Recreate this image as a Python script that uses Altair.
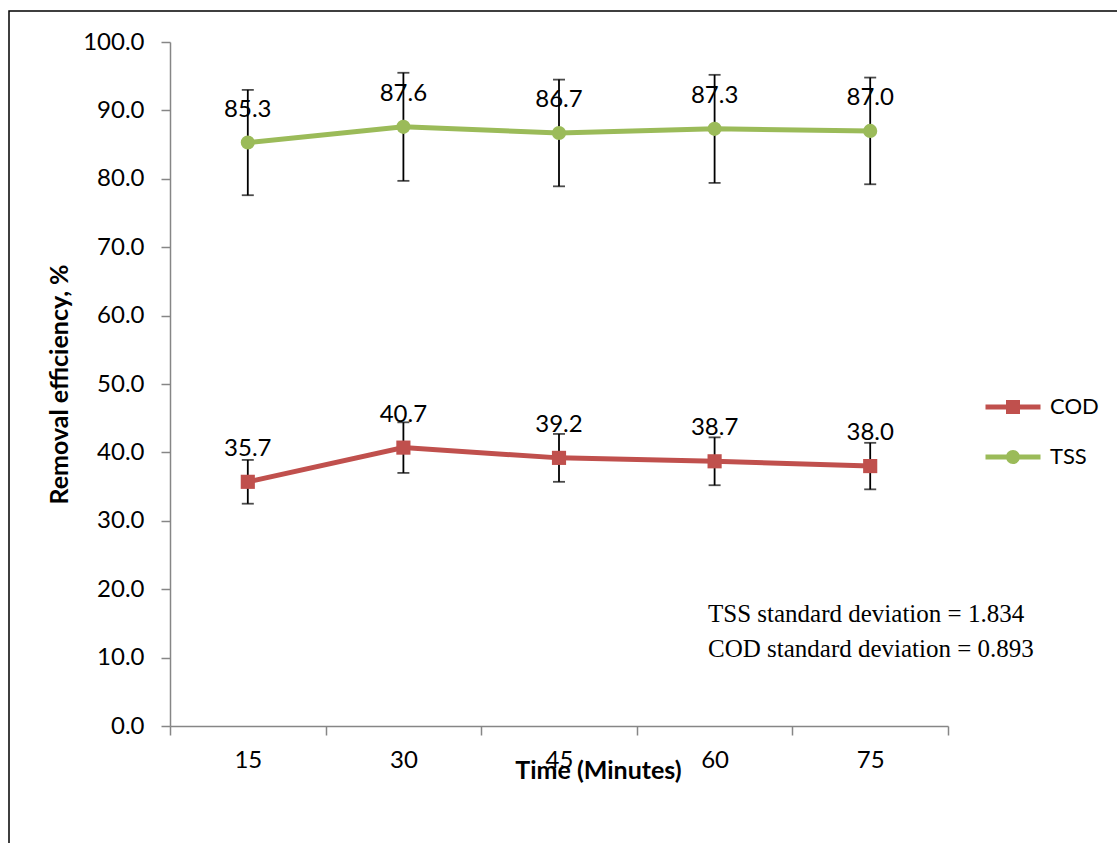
import altair as alt
import pandas as pd

times = [15, 30, 45, 60, 75]
cod = [35.7, 40.7, 39.2, 38.7, 38.0]
tss = [85.3, 87.6, 86.7, 87.3, 87.0]
cod_err = [3.2, 3.7, 3.5, 3.5, 3.4]
tss_err = [7.7, 7.9, 7.8, 7.9, 7.8]
series_names = ["COD", "TSS"]
series_colors = ["#C0504D", "#9BBB59"]
x_tick_values = [7.5, 22.5, 37.5, 52.5, 67.5, 82.5]
y_tick_values = [0, 10, 20, 30, 40, 50, 60, 70, 80, 90, 100]
note_lines = ["TSS standard deviation = 1.834", "COD standard deviation = 0.893"]

rows = []
for name, vals, errs in (("COD", cod, cod_err), ("TSS", tss, tss_err)):
    for t, v, e in zip(times, vals, errs):
        rows.append({"Time": t, "Series": name, "Series2": name, "Value": v,
                     "Lo": v - e, "Hi": v + e, "Label": f"{v:.1f}", "Hidden": -50.0})
df = pd.DataFrame(rows)

FONT = "Lato"
W, H = 778, 684

xscale = alt.Scale(domain=[7.5, 82.5], nice=False, zero=False)
yscale = alt.Scale(domain=[0, 100], nice=False, zero=False)

x_enc = alt.X("Time:Q", scale=xscale, axis=alt.Axis(
    values=x_tick_values, title="Time (Minutes)", grid=False,
    labelExpr="datum.value < 80 ? format(datum.value + 7.5, 'd') : ''",
    labelOffset=W / 10, labelFlush=False, labelOverlap=False,
    tickSize=9, tickColor="#868686", domainColor="#868686",
    tickWidth=1.5, domainWidth=1.5,
    labelFont=FONT, labelFontSize=24, labelColor="black", labelPadding=13,
    titleFont=FONT, titleFontSize=25, titleFontWeight="bold", titleColor="black",
    titleX=428, titleY=44, titleBaseline="middle"))
y_enc = alt.Y("Value:Q", scale=yscale, axis=alt.Axis(
    values=y_tick_values, format=".1f", title="Removal efficiency, %", grid=False,
    tickSize=9, tickColor="#868686", domainColor="#868686", tickWidth=1.5, domainWidth=1.5,
    labelFont=FONT, labelFontSize=24, labelColor="black", labelPadding=17,
    titleFont=FONT, titleFontSize=25, titleFontWeight="bold", titleColor="black",
    titlePadding=10))

cscale = alt.Scale(domain=series_names, range=series_colors)
color_nolegend = alt.Color("Series:N", scale=cscale, legend=None)
xq = alt.X("Time:Q", scale=xscale)

def yq(field):
    return alt.Y(f"{field}:Q", scale=yscale)

base = alt.Chart(df)

lines = base.mark_line(strokeWidth=5).encode(x=x_enc, y=y_enc, color=color_nolegend,
                                               detail="Series:N")
rules = base.mark_rule(color="black", strokeWidth=1.8).encode(x=xq, y=yq("Lo"), y2="Hi:Q")
caps_lo = base.mark_tick(color="black", size=12, thickness=1.8, orient="horizontal").encode(
    x=xq, y=yq("Lo"))
caps_hi = base.mark_tick(color="black", size=12, thickness=1.8, orient="horizontal").encode(
    x=xq, y=yq("Hi"))
pts_cod = base.transform_filter(alt.datum.Series == "COD").mark_point(
    shape="square", filled=True, size=200, opacity=1).encode(
    x=xq, y=yq("Value"), color=color_nolegend)
pts_tss = base.transform_filter(alt.datum.Series == "TSS").mark_point(
    shape="circle", filled=True, size=200, opacity=1).encode(
    x=xq, y=yq("Value"), color=color_nolegend)
labels = base.mark_text(font=FONT, fontSize=24, dy=-33, color="black").encode(
    x=xq, y=yq("Value"), text="Label:N")

sq_path = "M-2.75,-0.25H2.75V0.25H-2.75Z M-0.7,-0.7H0.7V0.7H-0.7Z"
ci_path = ("M-2.75,-0.25H2.75V0.25H-2.75Z "
           "M-0.7,0 A0.7,0.7 0 1,1 0.7,0 A0.7,0.7 0 1,1 -0.7,0Z")

leg = alt.Legend(title=None, orient="none", legendX=832, legendY=354,
                 labelFont=FONT, labelFontSize=22, labelColor="black",
                 labelOffset=26, rowPadding=28, padding=0,
                 symbolSize=400, symbolStrokeWidth=0)

legend_layer = base.mark_point(filled=True, size=400, opacity=1, strokeWidth=0, clip=True).encode(
    x=xq,
    y=yq("Hidden"),
    color=alt.Color("Series2:N", scale=alt.Scale(domain=series_names, range=series_colors),
                    legend=leg),
    shape=alt.Shape("Series2:N", scale=alt.Scale(domain=series_names, range=[sq_path, ci_path]),
                    legend=leg),
)

note_df = pd.DataFrame({"line": note_lines, "ypix": [580, 615]})
notes = alt.Chart(note_df).mark_text(font="Liberation Serif", fontSize=25, align="left",
                                      baseline="alphabetic", color="black").encode(
    x=alt.value(538),
    y=alt.Y("ypix:Q", scale=None),
    text="line:N")

border = alt.Chart(alt.Data(values=[{"a": 1}])).mark_rect(
    fillOpacity=0, stroke="black", strokeWidth=1.5).encode(
    x=alt.value(-161), x2=alt.value(960), y=alt.value(-31), y2=alt.value(820))

chart = alt.layer(
    border, lines, rules, caps_lo, caps_hi, pts_cod, pts_tss, labels, legend_layer, notes
).resolve_scale(color="independent", shape="independent").properties(
    width=W, height=H,
    background="white",
    autosize=alt.AutoSizeParams(type="none"),
    padding={"left": 170, "top": 42, "right": 169, "bottom": 117},
).configure_view(stroke=None)

chart.save("out.html", embed_options={"renderer": "svg", "actions": False})
